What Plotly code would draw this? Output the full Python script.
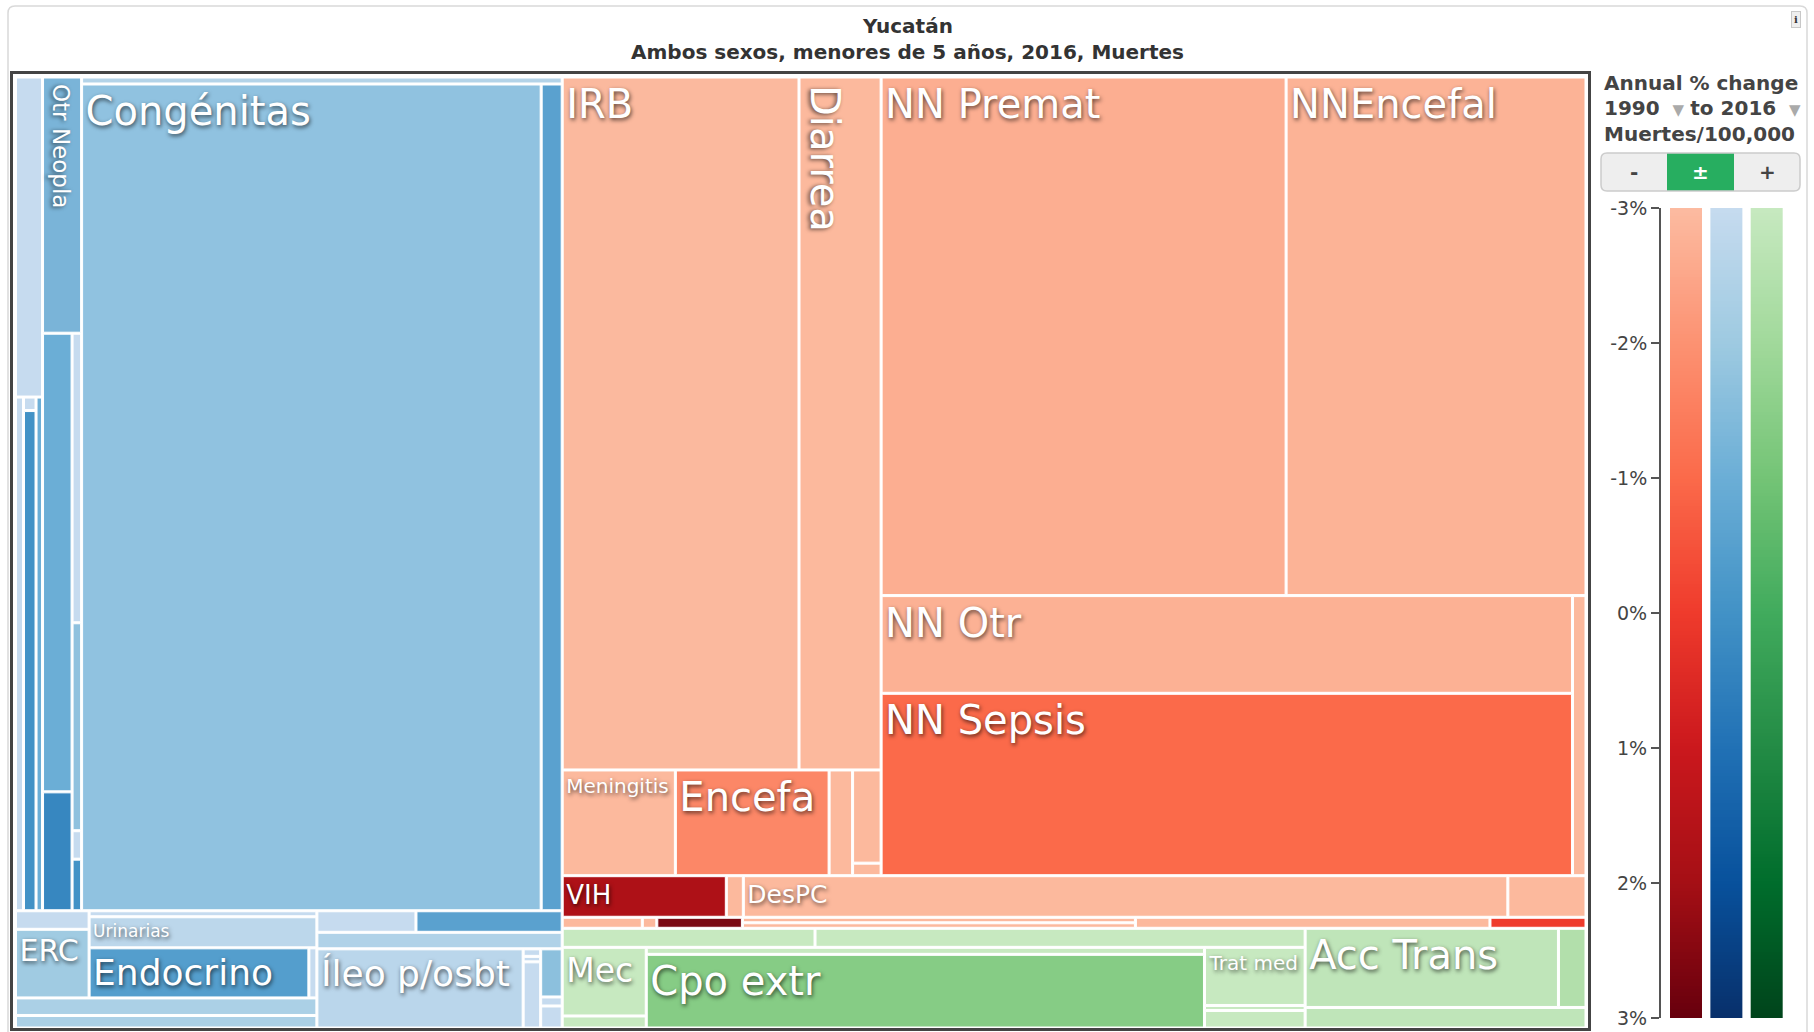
import numpy as np
import plotly.graph_objects as go

W, H = 1814, 1032


def px(x):
    return x / W


def py(y):
    return 1 - y / H


# ---------------- treemap data: (id, parent, label, deaths) ----------------
blue_upper = [
    ("root", "", "", 0),
    ("B", "root", "", 0),
    ("BU", "B", "", 0),
    ("BU_A", "BU", "", 0),
    ("a_top", "BU_A", "", 3.45),
    ("BU_A_low", "BU_A", "", 0),
    ("a_s1", "BU_A_low", "", 1.64),
    ("BU_A_mid", "BU_A_low", "", 0),
    ("a_m1", "BU_A_mid", "", 0.0675),
    ("a_m2", "BU_A_mid", "", 2.50),
    ("a_s3", "BU_A_low", "", 1.33),
    ("BU_B", "BU", "", 0),
    ("otr_neopla", "BU_B", "", 3.99),
    ("BU_B_low", "BU_B", "", 0),
    ("BU_B_med", "BU_B_low", "", 0),
    ("b_m1", "BU_B_med", "", 5.40),
    ("b_m2", "BU_B_med", "", 1.40),
    ("BU_B_thin", "BU_B_low", "", 0),
    ("b_t1", "BU_B_thin", "", 1.10),
    ("b_t2", "BU_B_thin", "", 0.79),
    ("b_t3", "BU_B_thin", "", 0.108),
    ("b_t4", "BU_B_thin", "", 0.196),
    ("BU_C", "BU", "", 0),
    ("c_top", "BU_C", "", 1.34),
    ("BU_C_low", "BU_C", "", 0),
    ("congenitas", "BU_C_low", "Congénitas", 151.47),
    ("c_right", "BU_C_low", "", 6.93),
]

blue_lower = [
    ("BL", "B", "", 0),
    ("BL_i", "BL", "", 0),
    ("BL_i_up", "BL_i", "", 0),
    ("BL_erc", "BL_i_up", "", 0),
    ("erc_top", "BL_erc", "", 0.544),
    ("erc", "BL_erc", "ERC", 2.014),
    ("BL_uri", "BL_i_up", "", 0),
    ("uri_top", "BL_uri", "", 0.546),
    ("urinarias", "BL_uri", "Urinarias", 2.821),
    ("BL_endo", "BL_uri", "", 0),
    ("endocrino", "BL_endo", "Endocrino", 4.39),
    ("endo_thin", "BL_endo", "", 0.16),
    ("i_strip1", "BL_i", "", 2.107),
    ("i_strip2", "BL_i", "", 1.505),
    ("BL_ii", "BL", "", 0),
    ("BL_ii_top", "BL_ii", "", 0),
    ("ii_t1", "BL_ii_top", "", 0.851),
    ("ii_t2", "BL_ii_top", "", 1.256),
    ("ii_strip", "BL_ii", "", 1.617),
    ("BL_ii_bot", "BL_ii", "", 0),
    ("ileo", "BL_ii_bot", "Íleo p/osbt", 6.51),
    ("BL_ii_s", "BL_ii_bot", "", 0),
    ("s1", "BL_ii_s", "", 0.0525),
    ("s2", "BL_ii_s", "", 0.0385),
    ("s3", "BL_ii_s", "", 0.462),
    ("BL_ii_c", "BL_ii_bot", "", 0),
    ("c1", "BL_ii_c", "", 0.413),
    ("c2", "BL_ii_c", "", 0.0774),
    ("c3", "BL_ii_c", "", 0.189),
]

red_upper = [
    ("R", "root", "", 0),
    ("RU", "R", "", 0),
    ("RESP", "RU", "", 0),
    ("RESP_top", "RESP", "", 0),
    ("irb", "RESP_top", "IRB", 65.42),
    ("diarrea", "RESP_top", "", 22.68),
    ("RESP_bot", "RESP", "", 0),
    ("meningitis", "RESP_bot", "Meningitis", 4.77),
    ("encefa", "RESP_bot", "Encefa", 6.48),
    ("rb_s", "RESP_bot", "", 0.99),
    ("RESP_bot_c", "RESP_bot", "", 0),
    ("rb_c1", "RESP_bot_c", "", 1.06),
    ("rb_c2", "RESP_bot_c", "", 0.1425),
    ("NEO", "RU", "", 0),
    ("NEO_top", "NEO", "", 0),
    ("nn_premat", "NEO_top", "NN Premat", 83.73),
    ("nnencefal", "NEO_top", "NNEncefal", 62.00),
    ("NEO_low", "NEO", "", 0),
    ("NEO_main", "NEO_low", "", 0),
    ("nn_otr", "NEO_main", "NN Otr", 26.93),
    ("nn_sepsis", "NEO_main", "NN Sepsis", 50.27),
    ("neo_strip", "NEO_low", "", 1.51),
]

red_lower = [
    ("RV", "R", "", 0),
    ("vih", "RV", "VIH", 2.72),
    ("rv_s", "RV", "", 0.282),
    ("despc", "RV", "DesPC", 12.67),
    ("nutr", "RV", "", 1.295),
    ("RT", "R", "", 0),
    ("rt_a", "RT", "", 0.352),
    ("rt_b", "RT", "", 0.0638),
    ("rt_dark", "RT", "", 0.376),
    ("RT_c", "RT", "", 0),
    ("rt_c1", "RT_c", "", 0.8635),
    ("rt_c2", "RT_c", "", 0.8635),
    ("rt_d", "RT", "", 1.558),
    ("rt_red", "RT", "", 0.422),
]

green_part = [
    ("G", "R", "", 0),
    ("GL", "G", "", 0),
    ("GL_top", "GL", "", 0),
    ("g_t1", "GL_top", "", 1.919),
    ("g_t2", "GL_top", "", 3.72),
    ("GL_low", "GL", "", 0),
    ("GL_mec", "GL_low", "", 0),
    ("mec", "GL_mec", "Mec", 2.30),
    ("mec_s", "GL_mec", "", 0.403),
    ("GL_cpo", "GL_low", "", 0),
    ("cpo_thin", "GL_cpo", "", 1.561),
    ("cpo", "GL_cpo", "Cpo extr", 16.39),
    ("GL_trat", "GL_low", "", 0),
    ("trat", "GL_trat", "Trat med", 2.332),
    ("trat_thin", "GL_trat", "", 0.201),
    ("trat_box", "GL_trat", "", 0.7035),
    ("GT", "G", "", 0),
    ("GT_top", "GT", "", 0),
    ("acc", "GT_top", "Acc Trans", 7.995),
    ("acc_s", "GT_top", "", 0.869),
    ("acc_bot", "GT", "", 2.30),
]

# ---------------- styles ----------------
cell_colors = {
    "a_top": "#c6dbef", "a_s1": "#c6dbef", "a_m1": "#c6dbef", "a_m2": "#4292c6", "a_s3": "#6baed6",
    "otr_neopla": "#7ab4d8", "b_m1": "#6baed6", "b_m2": "#3787c0",
    "b_t1": "#c6dbef", "b_t2": "#8fc1de", "b_t3": "#c6dbef", "b_t4": "#4292c6",
    "c_top": "#b3d3e8", "congenitas": "#90c2e0", "c_right": "#5aa1cf",
    "erc_top": "#c6dbef", "erc": "#a0cbe2", "uri_top": "#c6dbef", "urinarias": "#bcd7eb",
    "endocrino": "#549ecd", "endo_thin": "#c6dbef", "i_strip1": "#abd0e6", "i_strip2": "#abd0e6",
    "ii_t1": "#c6dbef", "ii_t2": "#5aa1cf", "ii_strip": "#b0d2e8", "ileo": "#bad6eb",
    "s1": "#c6dbef", "s2": "#c6dbef", "s3": "#c6dbef", "c1": "#8cc0dd", "c2": "#c6dbef", "c3": "#c6dbef",
    "irb": "#fbb99e", "diarrea": "#fcb99d", "meningitis": "#fcb99d", "encefa": "#fc8767",
    "rb_s": "#fcb99d", "rb_c1": "#fcb99d", "rb_c2": "#fcb99d",
    "nn_premat": "#fcae91", "nnencefal": "#fcb396", "nn_otr": "#fcb194", "nn_sepsis": "#fb6a4a",
    "neo_strip": "#fcb99d",
    "vih": "#ae1117", "rv_s": "#fcb99d", "despc": "#fcb99d", "nutr": "#fcb99d",
    "rt_a": "#fcb99d", "rt_b": "#fcb99d", "rt_dark": "#7a0a12", "rt_c1": "#fcb99d", "rt_c2": "#fcb99d",
    "rt_d": "#fcb99d", "rt_red": "#ef3b2c",
    "g_t1": "#c7e9c0", "g_t2": "#c7e9c0", "mec": "#c7e9c0", "mec_s": "#c7e9c0",
    "cpo_thin": "#c7e9c0", "cpo": "#86cc85", "trat": "#c7e9c0", "trat_thin": "#c7e9c0",
    "trat_box": "#c7e9c0", "acc": "#bfe5b9", "acc_s": "#b2dfab", "acc_bot": "#bfe5b9",
}
label_sizes = {
    "Congénitas": 40, "IRB": 40, "NN Premat": 40, "NNEncefal": 40, "NN Otr": 40, "NN Sepsis": 40,
    "Encefa": 40, "Cpo extr": 40, "Acc Trans": 40, "Endocrino": 36, "Íleo p/osbt": 36,
    "Mec": 33, "ERC": 30, "VIH": 26, "DesPC": 25, "Meningitis": 20, "Trat med": 20, "Urinarias": 17,
}

nodes = blue_upper + blue_lower + red_upper + red_lower + green_part
ids = [n[0] for n in nodes]
parents = [n[1] for n in nodes]
labels = [n[2] for n in nodes]
values = [n[3] for n in nodes]
colors = [cell_colors.get(i, "#ffffff") for i in ids]
sizes = [label_sizes.get(l, 12) for l in labels]

LABEL_FONT = "DejaVu Sans, Verdana, sans-serif"
SHADOW = "1px 2px 4px rgba(0,0,0,0.65)"

fig = go.Figure()
fig.add_trace(go.Treemap(
    ids=ids, parents=parents, labels=labels, values=values,
    branchvalues="remainder", sort=False,
    tiling=dict(packing="slice-dice", pad=2),
    marker=dict(colors=colors, line=dict(width=1, color="white"),
                pad=dict(t=0, l=0, r=0, b=0)),
    pathbar=dict(visible=False),
    textinfo="label", textposition="top left",
    textfont=dict(family=LABEL_FONT, size=sizes, color="white", shadow=SHADOW),
    hoverinfo="skip",
    domain=dict(x=[px(16.5), px(1585)], y=[py(1027), py(78)]),
))

# ---------------- legend colour ramps ----------------
legend_pct = np.linspace(-3, 3, 241)
reds = ["#fcbba1", "#fc9272", "#fb6a4a", "#ef3b2c", "#cb181d", "#a50f15", "#67000d"]
blues = ["#c6dbef", "#9ecae1", "#6baed6", "#4292c6", "#2171b5", "#08519c", "#08306b"]
greens = ["#c7e9c0", "#a1d99b", "#74c476", "#41ab5d", "#238b45", "#006d2c", "#00441b"]
tick_vals = [-3, -2, -1, 0, 1, 2, 3]
tick_text = ["-3%", "-2%", "-1%", "0%", "1%", "2%", "3%"]

for k, pal in enumerate([reds, blues, greens]):
    cs = [[i / (len(pal) - 1), c] for i, c in enumerate(pal)]
    fig.add_trace(go.Heatmap(
        x=[k], y=legend_pct, z=[[v] for v in legend_pct],
        colorscale=cs, zmin=-3, zmax=3, showscale=False, xgap=8,
        hoverinfo="skip", xaxis="x", yaxis="y",
    ))


def ann(x, y, text, size, color="#444", family="DejaVu Sans", xanchor="center", **kw):
    return dict(x=px(x), y=py(y), xref="paper", yref="paper", text=text, showarrow=False,
                xanchor=xanchor, yanchor="middle", font=dict(family=family, size=size, color=color), **kw)


TRI = "<span style='color:#aaa;font-size:15px'>▼</span>"
annotations = [
    ann(907, 26, "<b>Yucatán</b>", 20, "#333"),
    ann(907, 52, "<b>Ambos sexos, menores de 5 años, 2016, Muertes</b>", 20, "#333"),
    ann(1602, 83, "<b>Annual % change</b>", 20, xanchor="left"),
    ann(1602, 108, "<b>1990</b>&nbsp;&nbsp;" + TRI + "&nbsp;<b>to 2016</b>&nbsp;&nbsp;" + TRI,
        20, xanchor="left"),
    ann(1602, 134, "<b>Muertes/100,000</b>", 20, xanchor="left"),
    ann(1634, 172, "<b>-</b>", 20),
    ann(1700, 172, "<b>±</b>", 20, "white"),
    ann(1767, 172, "<b>+</b>", 20),
    ann(1796, 19, "<b>i</b>", 10, "#333", "DejaVu Serif", bgcolor="#eeeeee",
        bordercolor="#c8c8c8", borderwidth=1, borderpad=2),
    # rotated labels of the narrow cells
    dict(x=px(825), y=py(158), xref="paper", yref="paper", text="Diarrea", textangle=90, showarrow=False,
         xanchor="center", yanchor="middle",
         font=dict(family=LABEL_FONT, size=40, color="white", shadow=SHADOW)),
    dict(x=px(61), y=py(146), xref="paper", yref="paper", text="Otr Neopla", textangle=90, showarrow=False,
         xanchor="center", yanchor="middle",
         font=dict(family=LABEL_FONT, size=23, color="white", shadow=SHADOW)),
]


def rrect(x0, y0, x1, y1, r):
    rx, ry = r / W, r / H
    X0, X1, Y0, Y1 = px(x0), px(x1), py(y0), py(y1)
    return (f"M {X0+rx},{Y0} L {X1-rx},{Y0} Q {X1},{Y0} {X1},{Y0-ry} L {X1},{Y1+ry} "
            f"Q {X1},{Y1} {X1-rx},{Y1} L {X0+rx},{Y1} Q {X0},{Y1} {X0},{Y1+ry} "
            f"L {X0},{Y0-ry} Q {X0},{Y0} {X0+rx},{Y0} Z")


shapes = [
    dict(type="path", xref="paper", yref="paper", path=rrect(8, 6, 1807, 1050, 7),
         line=dict(color="#d9d9d9", width=1.5), fillcolor="rgba(0,0,0,0)", layer="below"),
    dict(type="rect", xref="paper", yref="paper", x0=px(11.5), x1=px(1589.5), y0=py(1029.5), y1=py(72.5),
         line=dict(color="#444", width=3), fillcolor="rgba(0,0,0,0)"),
    dict(type="path", xref="paper", yref="paper", path=rrect(1601, 153, 1800, 191, 6),
         line=dict(width=0), fillcolor="#eeeeee"),
    dict(type="rect", xref="paper", yref="paper", x0=px(1667), x1=px(1734), y0=py(191), y1=py(153),
         line=dict(width=0), fillcolor="#27ae60"),
    dict(type="path", xref="paper", yref="paper", path=rrect(1601, 153, 1800, 191, 6),
         line=dict(color="#cccccc", width=1.5), fillcolor="rgba(0,0,0,0)"),
]

fig.update_layout(
    width=W, height=H, margin=dict(l=0, r=0, t=0, b=0, pad=0, autoexpand=False),
    paper_bgcolor="white", plot_bgcolor="white",
    xaxis=dict(domain=[px(1666), px(1787)], range=[-0.5, 2.5], visible=False, fixedrange=True),
    yaxis=dict(domain=[py(1018), py(208)], range=[3, -3], anchor="free", position=px(1660),
               side="left", tickvals=tick_vals, ticktext=tick_text, ticks="outside", ticklen=8,
               tickwidth=2, tickcolor="#555", showline=True, linecolor="#555", linewidth=2,
               showgrid=False, zeroline=False, fixedrange=True, automargin=False,
               tickfont=dict(family="DejaVu Sans", size=19, color="#444")),
    annotations=annotations, shapes=shapes, showlegend=False,
)

fig.write_html("out.html", config={"displayModeBar": False},
               post_script="document.body.style.margin='0';")
